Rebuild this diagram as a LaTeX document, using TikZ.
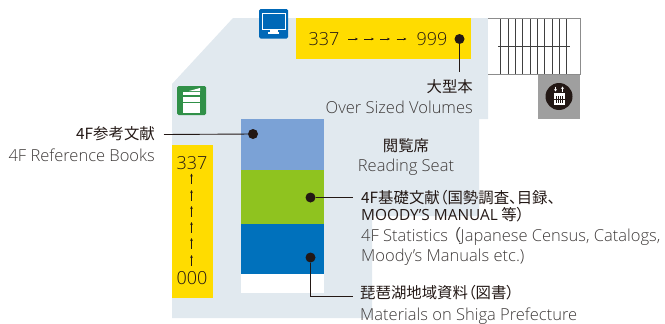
\documentclass[tikz,border=0pt]{standalone}
\usepackage{fontspec}
\setmainfont{Open Sans Light}
\newfontfamily\jpfont[RawFeature=+palt]{Noto Sans CJK JP}
\newfontfamily\capsfont{Open Sans}
\usetikzlibrary{arrows.meta}
\definecolor{floorblue}{HTML}{E1E9EF}
\definecolor{shelfyellow}{HTML}{FFDC00}
\definecolor{seatblue}{HTML}{7BA2D6}
\definecolor{seatgreen}{HTML}{8FC31F}
\definecolor{seatdeep}{HTML}{0071BC}
\definecolor{iconblue}{HTML}{0068B7}
\definecolor{icongreen}{HTML}{309048}
\definecolor{liftgray}{HTML}{9F9F9F}
\definecolor{inkdark}{HTML}{231815}
\definecolor{inklight}{HTML}{3E3A39}
\tikzset{
  lbljp/.style={inner sep=0pt,text=inkdark,font=\jpfont\fontsize{15.4}{18}\selectfont},
  lblen/.style={inner sep=0pt,text=inklight,font=\fontsize{16.5}{18}\selectfont},
  numtxt/.style={inner sep=0pt,text=inkdark,font=\fontsize{18}{20}\selectfont},
  dotmark/.style={circle,fill=inkdark,minimum size=10pt,inner sep=0pt},
  leader/.style={draw=inkdark,line width=0.9pt},
  tinyarrow/.style={inkdark,line width=0.5pt,-{Stealth[length=3pt,width=2.6pt]}},
  stairline/.style={draw=black!75,line width=1pt}
}
\begin{document}
\begin{tikzpicture}[x=1pt,y=-1pt]
  \useasboundingbox (0,0) rectangle (665,324);
  % floor
  \fill[floorblue] (233,18) -- (488,18) -- (488,119) -- (479,119) -- (479,216)
    -- (372,216) -- (372,318) -- (172,318) -- (172,84) -- cycle;
  % stairs and lift
  \fill[white] (488,18) rectangle (580,74);
  \fill[liftgray] (538,74) rectangle (580,119);
  \foreach \x in {500.7,508,515.3,522.7,530,537.3,544.7,552,559.3,566.7}
    \draw[stairline] (\x,18) -- (\x,74);
  \draw[stairline] (498,46) -- (570,46);
  \draw[line width=1pt,draw=black!45] (488,18) -- (580,18) -- (580,74) -- (488,74);
  \node[circle,fill=inkdark,minimum size=27pt,inner sep=0pt] (liftmark) at (559,96.5) {};
  \fill[white] (554,93) rectangle (565,105);
  \foreach \x in {556,558.2,560.4,562.6}
    \draw[inkdark,line width=0.5pt] (\x,96) -- (\x,103);
  \draw[inkdark,line width=0.5pt] (554,99) -- (565,99);
  \draw[white,line width=0.7pt,-{Stealth[length=2.5pt,width=3pt]}] (555.5,86.5) -- (555.5,91.5);
  \draw[white,line width=0.7pt,-{Stealth[length=2.5pt,width=3pt]}] (562.5,91.5) -- (562.5,86.5);
  % shelves
  \fill[shelfyellow] (296,18) rectangle (471,59);
  \fill[shelfyellow] (172,145) rectangle (213,298);
  \fill[white] (241,119) rectangle (324,293);
  \fill[seatblue] (241,119) rectangle (324,170);
  \fill[seatgreen] (241,170) rectangle (324,224);
  \fill[seatdeep] (241,224) rectangle (324,274);
  % icons
  \fill[iconblue,rounded corners=1.5pt] (259,9) rectangle (288,38.5);
  \draw[white,line width=1pt,fill=iconblue] (262.5,13.5) rectangle (285.5,29);
  \fill[white] (269.5,29) rectangle (277.5,32);
  \fill[white] (268,32) rectangle (279,33.5);
  \fill[icongreen,rounded corners=1.5pt] (177,86) rectangle (206,115);
  \fill[white] (182.5,92) rectangle (200,95);
  \fill[white] (182.5,97) rectangle (200,102);
  \fill[white] (182.5,103) rectangle (200,112.5);
  \fill[white] (189,91) -- (200,88) -- (200,91) -- cycle;
  % numbers
  \node[numtxt] (numa) at (324,39) {337};
  \node[numtxt] (numb) at (432,39) {999};
  \foreach \x in {348,364,380,396.5}
    \draw[tinyarrow] (\x,39) -- (\x+10,39);
  \node[numtxt] (numc) at (192,163) {337};
  \node[numtxt] (numd) at (192,278) {000};
  \foreach \y in {173.5,190,206,222,238,255}
    \draw[tinyarrow] (191.5,\y+10.5) -- (191.5,\y);
  % dots
  \node[dotmark] (dotbig) at (459.5,39) {};
  \node[dotmark] (dotref) at (253,134) {};
  \node[dotmark] (dotstat) at (310.5,197.5) {};
  \node[dotmark] (dotshiga) at (310.5,257.5) {};
  \coordinate (endbig) at (459.5,72);
  \coordinate (endref) at (164,134.5);
  \coordinate (endstat) at (353,197.5);
  \coordinate (endshiga) at (353,296);
  \draw[leader] (dotbig) -- (endbig);
  \draw[leader] (endref) -- (dotref);
  \draw[leader] (dotstat) -- (endstat);
  \draw[leader] (dotshiga) |- (endshiga);
  % labels
  \node[lbljp,anchor=east] (bigjp) at (473,87) {大型本};
  \node[lblen,anchor=east] (bigen) at (473,107) {Over Sized Volumes};
  \node[lbljp,anchor=east] (refjp) at (155,134) {4F参考文献};
  \node[lblen,anchor=east] (refen) at (155,155) {4F Reference Books};
  \node[lbljp] (seatjp) at (406,146) {閲覧席};
  \node[lblen] (seaten) at (406,167) {Reading Seat};
  \node[lbljp,anchor=west] (statjp) at (361,198) {4F基礎文献（国勢調査、目録、};
  \node[lbljp,anchor=west] (statjq) at (361,215) {{\capsfont MOODY’S MANUAL} 等）};
  \node[lblen,anchor=west] (staten) at (361,236) {4F Statistics {\jpfont（}Japanese Census, Catalogs,};
  \node[lblen,anchor=west] (stateo) at (361,257) {Moody’s Manuals etc.)};
  \node[lbljp,anchor=west] (shigajp) at (360,293) {琵琶湖地域資料（図書）};
  \node[lblen,anchor=west] (shigaen) at (360,316) {Materials on Shiga Prefecture};
\end{tikzpicture}
\end{document}
